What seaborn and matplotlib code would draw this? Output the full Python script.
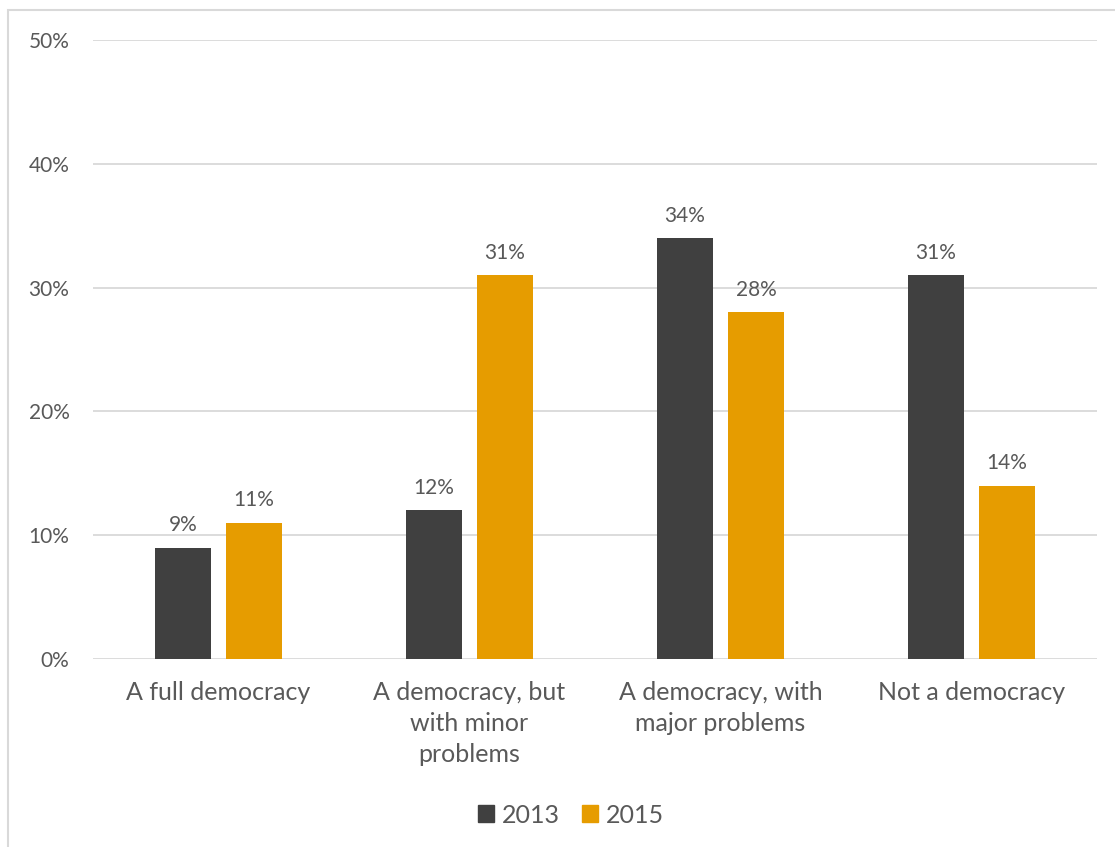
import matplotlib
matplotlib.use("Agg")
import matplotlib.pyplot as plt
import seaborn as sns
import pandas as pd
from matplotlib.patches import Rectangle
from matplotlib.ticker import FuncFormatter

categories = ["A full democracy", "A democracy, but\nwith minor\nproblems",
              "A democracy, with\nmajor problems", "Not a democracy"]
series = ["2013", "2015"]
values_2013 = [9, 12, 34, 31]
values_2015 = [11, 31, 28, 14]
yticks = [0, 10, 20, 30, 40, 50]

df = pd.DataFrame({
    "category": categories * 2,
    "year": [series[0]] * 4 + [series[1]] * 4,
    "value": values_2013 + values_2015,
})

sns.set_theme(style="white")
plt.rcParams["font.family"] = ["Lato", "DejaVu Sans"]
text_color = "#595959"
colors = {"2013": "#404040", "2015": "#E69C00"}

fig = plt.figure(figsize=(11.15, 8.47), dpi=100)
fig.patch.set_facecolor("white")
fig.patches.append(Rectangle((8 / 1115, -0.05), 1.2, 1 - 10 / 847 + 0.05,
                             transform=fig.transFigure, fill=False,
                             edgecolor="#d9d9d9", linewidth=1.5, zorder=0))
ax = fig.add_axes([93 / 1115, 1 - 659 / 847, (1097 - 93) / 1115, (659 - 40) / 847])

sns.barplot(data=df, x="category", y="value", hue="year", palette=colors,
            width=0.566, ax=ax, saturation=1, legend=True, zorder=3)

bar_w = 56 / 251
for p in ax.patches:
    cx = p.get_x() + p.get_width() / 2
    p.set_x(cx - bar_w / 2)
    p.set_width(bar_w)
    p.set_edgecolor("none")

for cont in ax.containers:
    labels = [f"{int(round(v))}%" for v in cont.datavalues]
    ax.bar_label(cont, labels=labels, padding=9, fontsize=15, color=text_color)

ax.set_ylim(0, 50)
ax.set_xlim(-0.5, 3.5)
ax.set_yticks(yticks)
ax.yaxis.set_major_formatter(FuncFormatter(lambda v, _: f"{int(v)}%"))
ax.grid(axis="y", color="#d9d9d9", linewidth=1.3, zorder=0)
ax.set_axisbelow(True)
for s in ax.spines.values():
    s.set_visible(False)
ax.tick_params(axis="y", length=0, pad=17, labelsize=15, labelcolor=text_color)
ax.tick_params(axis="x", length=0, pad=16, labelsize=18, labelcolor=text_color)
for t in ax.get_xticklabels():
    t.set_linespacing(1.42)
ax.set_xlabel("")
ax.set_ylabel("")

ax.get_legend().remove()
handles = [Rectangle((0, 0), 1, 1, color=colors[s]) for s in series]
fig.legend(handles, series, loc="center", bbox_to_anchor=(571 / 1115, 1 - 815 / 847),
           ncol=2, frameon=False, fontsize=18, labelcolor=text_color,
           handlelength=0.65, handleheight=0.65, handletextpad=0.3, columnspacing=0.9)

fig.savefig("out.png", dpi=100, facecolor="white")
